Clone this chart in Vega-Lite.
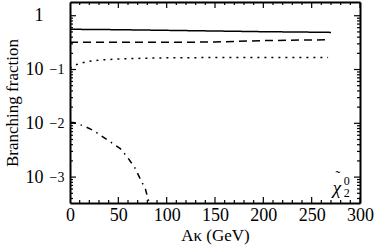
{
  "$schema": "https://vega.github.io/schema/vega-lite/v6.json",
  "autosize": {"type": "none"},
  "width": 290,
  "height": 201,
  "padding": {"left": 70, "top": 2, "right": 14, "bottom": 44},
  "background": "white",
  "config": {
    "view": {"stroke": null},
    "font": "Liberation Serif",
    "axis": {
      "labelFont": "Liberation Serif",
      "titleFont": "Liberation Serif",
      "labelFontSize": 18,
      "titleFontSize": 17,
      "titleFontWeight": "normal",
      "labelColor": "black",
      "titleColor": "black",
      "domainColor": "black",
      "domainWidth": 2,
      "grid": false,
      "labelOverlap": false,
      "labelFlush": false
    }
  },
  "datasets": {
    "lines": [
      {"s": "a", "x": 0, "y": 0.56}, {"s": "a", "x": 50, "y": 0.55}, {"s": "a", "x": 100, "y": 0.535}, {"s": "a", "x": 150, "y": 0.52}, {"s": "a", "x": 200, "y": 0.505}, {"s": "a", "x": 250, "y": 0.495}, {"s": "a", "x": 270, "y": 0.49},
      {"s": "b", "x": 0, "y": 0.32}, {"s": "b", "x": 50, "y": 0.32}, {"s": "b", "x": 100, "y": 0.32}, {"s": "b", "x": 150, "y": 0.325}, {"s": "b", "x": 200, "y": 0.345}, {"s": "b", "x": 250, "y": 0.355}, {"s": "b", "x": 265, "y": 0.357},
      {"s": "c", "x": 0, "y": 0.105}, {"s": "c", "x": 5, "y": 0.12}, {"s": "c", "x": 10, "y": 0.13}, {"s": "c", "x": 20, "y": 0.142}, {"s": "c", "x": 30, "y": 0.15}, {"s": "c", "x": 50, "y": 0.157}, {"s": "c", "x": 75, "y": 0.162}, {"s": "c", "x": 100, "y": 0.165}, {"s": "c", "x": 150, "y": 0.167}, {"s": "c", "x": 200, "y": 0.168}, {"s": "c", "x": 267, "y": 0.167},
      {"s": "d", "x": 0, "y": 0.0105}, {"s": "d", "x": 5, "y": 0.0102}, {"s": "d", "x": 15, "y": 0.0088}, {"s": "d", "x": 24, "y": 0.0074}, {"s": "d", "x": 38, "y": 0.005}, {"s": "d", "x": 52, "y": 0.0034}, {"s": "d", "x": 59, "y": 0.0024}, {"s": "d", "x": 67, "y": 0.0015}, {"s": "d", "x": 73, "y": 0.0009}, {"s": "d", "x": 78, "y": 0.0006}, {"s": "d", "x": 81, "y": 0.00038}, {"s": "d", "x": 82, "y": 0.00033}
    ],
    "label": [{"x": 276, "y": 0.00064, "chi": "χ", "tilde": "˜", "sup": "0", "sub": "2"}],
    "xticks": [
      {"v": 0, "k": "major"}, {"v": 10, "k": "minor"}, {"v": 20, "k": "minor"}, {"v": 30, "k": "minor"}, {"v": 40, "k": "minor"},
      {"v": 50, "k": "major"}, {"v": 60, "k": "minor"}, {"v": 70, "k": "minor"}, {"v": 80, "k": "minor"}, {"v": 90, "k": "minor"},
      {"v": 100, "k": "major"}, {"v": 110, "k": "minor"}, {"v": 120, "k": "minor"}, {"v": 130, "k": "minor"}, {"v": 140, "k": "minor"},
      {"v": 150, "k": "major"}, {"v": 160, "k": "minor"}, {"v": 170, "k": "minor"}, {"v": 180, "k": "minor"}, {"v": 190, "k": "minor"},
      {"v": 200, "k": "major"}, {"v": 210, "k": "minor"}, {"v": 220, "k": "minor"}, {"v": 230, "k": "minor"}, {"v": 240, "k": "minor"},
      {"v": 250, "k": "major"}, {"v": 260, "k": "minor"}, {"v": 270, "k": "minor"}, {"v": 280, "k": "minor"}, {"v": 290, "k": "minor"},
      {"v": 300, "k": "major"}
    ],
    "yticks": [
      {"v": 0.0004, "k": "minor"}, {"v": 0.0005, "k": "minor"}, {"v": 0.0006, "k": "minor"}, {"v": 0.0007, "k": "minor"}, {"v": 0.0008, "k": "minor"}, {"v": 0.0009, "k": "minor"},
      {"v": 0.001, "k": "major"}, {"v": 0.002, "k": "minor"}, {"v": 0.003, "k": "minor"}, {"v": 0.004, "k": "minor"}, {"v": 0.005, "k": "minor"}, {"v": 0.006, "k": "minor"}, {"v": 0.007, "k": "minor"}, {"v": 0.008, "k": "minor"}, {"v": 0.009, "k": "minor"},
      {"v": 0.01, "k": "major"}, {"v": 0.02, "k": "minor"}, {"v": 0.03, "k": "minor"}, {"v": 0.04, "k": "minor"}, {"v": 0.05, "k": "minor"}, {"v": 0.06, "k": "minor"}, {"v": 0.07, "k": "minor"}, {"v": 0.08, "k": "minor"}, {"v": 0.09, "k": "minor"},
      {"v": 0.1, "k": "major"}, {"v": 0.2, "k": "minor"}, {"v": 0.3, "k": "minor"}, {"v": 0.4, "k": "minor"}, {"v": 0.5, "k": "minor"}, {"v": 0.6, "k": "minor"}, {"v": 0.7, "k": "minor"}, {"v": 0.8, "k": "minor"}, {"v": 0.9, "k": "minor"},
      {"v": 1, "k": "major"}
    ]
  },
  "resolve": {"axis": {"x": "independent", "y": "independent"}},
  "layer": [
    {
      "data": {"name": "lines"},
      "mark": {"type": "line", "color": "black", "strokeWidth": 1.5, "clip": true},
      "encoding": {
        "x": {"field": "x", "type": "quantitative",
          "scale": {"domain": [0, 300], "nice": false, "zero": false},
          "axis": {"orient": "bottom", "title": "Aκ (GeV)", "titlePadding": 3,
            "values": [0, 50, 100, 150, 200, 250, 300],
            "ticks": false, "labelPadding": 3}},
        "y": {"field": "y", "type": "quantitative",
          "scale": {"type": "log", "domain": [0.00033, 1.8], "nice": false},
          "axis": {"orient": "left", "title": "Branching fraction", "titlePadding": 4,
            "values": [0.001, 0.01, 0.1, 1],
            "labelExpr": "datum.value > 0.5 ? '1' : '10'",
            "ticks": false, "labelPadding": 27}},
        "strokeDash": {"field": "s", "type": "nominal", "legend": null,
          "scale": {"domain": ["a", "b", "c", "d"], "range": [[1, 0], [8, 5], [2, 5], [6, 5, 1.5, 5]]}}
      }
    },
    {
      "data": {"name": "lines"},
      "mark": {"type": "line", "opacity": 0},
      "encoding": {
        "x": {"field": "x", "type": "quantitative",
          "scale": {"domain": [0, 300], "nice": false, "zero": false}, "axis": null},
        "y": {"field": "y", "type": "quantitative",
          "scale": {"type": "log", "domain": [0.00033, 1.8], "nice": false},
          "axis": {"orient": "left", "title": null, "domain": false, "ticks": false,
            "values": [0.001, 0.01, 0.1],
            "labelExpr": "datum.value > 0.05 ? '−1' : datum.value > 0.005 ? '−2' : '−3'",
            "labelFontSize": 14, "labelPadding": 6, "labelDy": -7}}
      }
    },
    {
      "data": {"name": "xticks"},
      "mark": {"type": "tick", "orient": "vertical", "color": "black", "thickness": 1.2, "clip": true, "opacity": 1},
      "encoding": {
        "x": {"field": "v", "type": "quantitative", "scale": {"domain": [0, 300], "nice": false, "zero": false}, "axis": null},
        "y": {"datum": 0.00033, "type": "quantitative", "scale": {"type": "log", "domain": [0.00033, 1.8], "nice": false}, "axis": null},
        "size": {"field": "k", "type": "nominal", "legend": null, "scale": {"domain": ["minor", "major"], "range": [6, 12]}}
      }
    },
    {
      "data": {"name": "xticks"},
      "mark": {"type": "tick", "orient": "vertical", "color": "black", "thickness": 1.2, "clip": true, "opacity": 1},
      "encoding": {
        "x": {"field": "v", "type": "quantitative", "scale": {"domain": [0, 300], "nice": false, "zero": false}, "axis": null},
        "y": {"datum": 1.8, "type": "quantitative", "scale": {"type": "log", "domain": [0.00033, 1.8], "nice": false}, "axis": null},
        "size": {"field": "k", "type": "nominal", "legend": null, "scale": {"domain": ["minor", "major"], "range": [6, 12]}}
      }
    },
    {
      "data": {"name": "yticks"},
      "mark": {"type": "tick", "orient": "horizontal", "color": "black", "thickness": 1.2, "clip": true, "opacity": 1},
      "encoding": {
        "x": {"datum": 0, "type": "quantitative", "scale": {"domain": [0, 300], "nice": false, "zero": false}, "axis": null},
        "y": {"field": "v", "type": "quantitative", "scale": {"type": "log", "domain": [0.00033, 1.8], "nice": false}, "axis": null},
        "size": {"field": "k", "type": "nominal", "legend": null, "scale": {"domain": ["minor", "major"], "range": [6, 12]}}
      }
    },
    {
      "data": {"name": "yticks"},
      "mark": {"type": "tick", "orient": "horizontal", "color": "black", "thickness": 1.2, "clip": true, "opacity": 1},
      "encoding": {
        "x": {"datum": 300, "type": "quantitative", "scale": {"domain": [0, 300], "nice": false, "zero": false}, "axis": null},
        "y": {"field": "v", "type": "quantitative", "scale": {"type": "log", "domain": [0.00033, 1.8], "nice": false}, "axis": null},
        "size": {"field": "k", "type": "nominal", "legend": null, "scale": {"domain": ["minor", "major"], "range": [6, 12]}}
      }
    },
    {
      "data": {"name": "label"},
      "mark": {"type": "text", "font": "Liberation Serif", "fontSize": 19, "fontStyle": "italic", "color": "black"},
      "encoding": {
        "text": {"field": "chi"},
        "x": {"field": "x", "type": "quantitative",
          "scale": {"domain": [0, 300], "nice": false, "zero": false},
          "axis": {"orient": "top", "title": null, "labels": false, "ticks": false}},
        "y": {"field": "y", "type": "quantitative",
          "scale": {"type": "log", "domain": [0.00033, 1.8], "nice": false},
          "axis": {"orient": "right", "title": null, "labels": false, "ticks": false}}
      }
    },
    {
      "data": {"name": "label"},
      "mark": {"type": "text", "font": "Liberation Serif", "fontSize": 14, "color": "black", "dy": -11, "dx": 1},
      "encoding": {
        "text": {"field": "tilde"},
        "x": {"field": "x", "type": "quantitative", "scale": {"domain": [0, 300], "nice": false, "zero": false}, "axis": null},
        "y": {"field": "y", "type": "quantitative", "scale": {"type": "log", "domain": [0.00033, 1.8], "nice": false}, "axis": null}
      }
    },
    {
      "data": {"name": "label"},
      "mark": {"type": "text", "font": "Liberation Serif", "fontSize": 12, "color": "black", "dx": 10, "dy": -7},
      "encoding": {
        "text": {"field": "sup"},
        "x": {"field": "x", "type": "quantitative", "scale": {"domain": [0, 300], "nice": false, "zero": false}, "axis": null},
        "y": {"field": "y", "type": "quantitative", "scale": {"type": "log", "domain": [0.00033, 1.8], "nice": false}, "axis": null}
      }
    },
    {
      "data": {"name": "label"},
      "mark": {"type": "text", "font": "Liberation Serif", "fontSize": 12, "color": "black", "dx": 10, "dy": 5},
      "encoding": {
        "text": {"field": "sub"},
        "x": {"field": "x", "type": "quantitative", "scale": {"domain": [0, 300], "nice": false, "zero": false}, "axis": null},
        "y": {"field": "y", "type": "quantitative", "scale": {"type": "log", "domain": [0.00033, 1.8], "nice": false}, "axis": null}
      }
    }
  ]
}
